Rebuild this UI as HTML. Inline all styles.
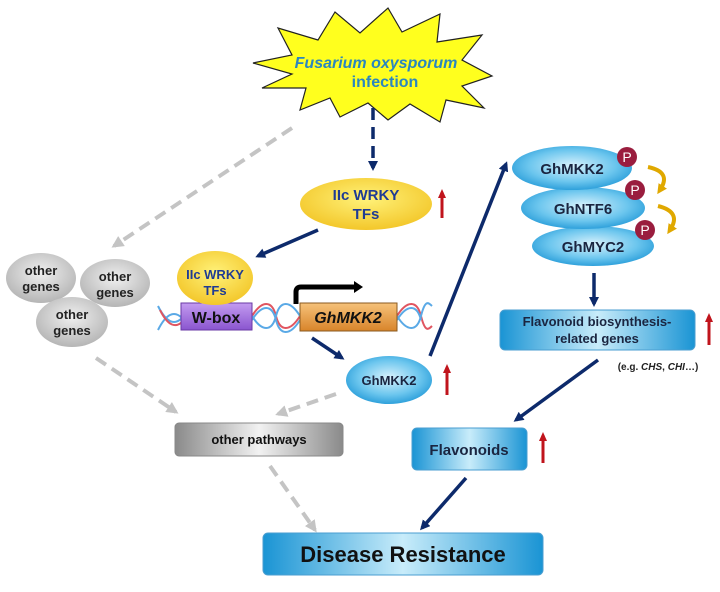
<!DOCTYPE html>
<html><head><meta charset="utf-8"><style>
html,body{margin:0;padding:0;background:#fff;}
svg{display:block;font-family:"Liberation Sans",sans-serif;font-weight:bold;}
</style></head><body>
<svg width="720" height="592" viewBox="0 0 720 592" xmlns="http://www.w3.org/2000/svg">
<defs>
<radialGradient id="yel" cx="50%" cy="40%" r="60%"><stop offset="0" stop-color="#fff27a"/><stop offset="1" stop-color="#f3c72a"/></radialGradient>
<radialGradient id="blu" cx="50%" cy="45%" r="60%"><stop offset="0" stop-color="#d9f2fc"/><stop offset="0.6" stop-color="#6cc6ee"/><stop offset="1" stop-color="#1f97d6"/></radialGradient>
<linearGradient id="boxh" x1="0" y1="0" x2="1" y2="0"><stop offset="0" stop-color="#1a94d4"/><stop offset="0.5" stop-color="#c8ecfa"/><stop offset="1" stop-color="#1a94d4"/></linearGradient>
<linearGradient id="gray" x1="0" y1="0" x2="1" y2="0"><stop offset="0" stop-color="#8a8a8a"/><stop offset="0.5" stop-color="#f2f2f2"/><stop offset="1" stop-color="#8a8a8a"/></linearGradient>
<radialGradient id="gel" cx="50%" cy="40%" r="60%"><stop offset="0" stop-color="#f0f0f0"/><stop offset="1" stop-color="#b5b5b5"/></radialGradient>
<linearGradient id="org" x1="0" y1="0" x2="0" y2="1"><stop offset="0" stop-color="#f6c27a"/><stop offset="1" stop-color="#d8842a"/></linearGradient>
<linearGradient id="pur" x1="0" y1="0" x2="0" y2="1"><stop offset="0" stop-color="#c39bf0"/><stop offset="1" stop-color="#8a55cf"/></linearGradient>
<marker id="an" markerWidth="10" markerHeight="10" refX="7" refY="5" orient="auto" markerUnits="userSpaceOnUse"><path d="M0,0 L10,5 L0,10 z" fill="#0d2a6b"/></marker>
<marker id="ag" markerWidth="12" markerHeight="12" refX="9" refY="6" orient="auto" markerUnits="userSpaceOnUse"><path d="M0,0 L12,6 L0,12 z" fill="#c4c4c4"/></marker>
<marker id="ar" markerWidth="9" markerHeight="8" refX="6" refY="4" orient="auto" markerUnits="userSpaceOnUse"><path d="M0,0 L9,4 L0,8 z" fill="#c0141c"/></marker>
<marker id="ay" markerWidth="10" markerHeight="10" refX="5" refY="5" orient="auto" markerUnits="userSpaceOnUse"><path d="M0,0 L10,5 L0,10 z" fill="#e0a800"/></marker>
</defs>

<polygon points="253,63 292,55 278,28 318,40 335,12 360,33 388,8 402,32 440,14 437,42 482,35 462,60 492,76 462,86 484,108 446,100 440,122 410,104 388,120 368,103 340,117 330,98 300,110 306,88 262,88 292,74" fill="#ffff1e" stroke="#222" stroke-width="1.2"/>
<text x="376" y="68" font-size="16" font-style="italic" fill="#2a86bf" text-anchor="middle">Fusarium oxysporum</text>
<text x="385" y="87" font-size="16" fill="#2a86bf" text-anchor="middle">infection</text>

<g stroke="#c4c4c4" stroke-width="4" stroke-dasharray="12,7" fill="none">
<line x1="292" y1="128" x2="114" y2="246" marker-end="url(#ag)"/>
<line x1="96" y1="358" x2="176" y2="412" marker-end="url(#ag)"/>
<line x1="336" y1="394" x2="278" y2="414" marker-end="url(#ag)"/>
<line x1="270" y1="466" x2="315" y2="530" marker-end="url(#ag)"/>
</g>

<g stroke="#0d2a6b" stroke-width="3.5" fill="none">
<line x1="373" y1="108" x2="373" y2="168" stroke-dasharray="12,7" marker-end="url(#an)"/>
<line x1="318" y1="230" x2="258" y2="256" marker-end="url(#an)"/>
<line x1="312" y1="338" x2="342" y2="358" marker-end="url(#an)"/>
<line x1="430" y1="356" x2="506" y2="164" marker-end="url(#an)"/>
<line x1="594" y1="273" x2="594" y2="304" marker-end="url(#an)"/>
<line x1="598" y1="360" x2="516" y2="420" marker-end="url(#an)"/>
<line x1="466" y1="478" x2="422" y2="528" marker-end="url(#an)"/>
</g>

<g stroke="#c0141c" stroke-width="3" fill="none">
<line x1="442" y1="218" x2="442" y2="192" marker-end="url(#ar)"/>
<line x1="447" y1="395" x2="447" y2="367" marker-end="url(#ar)"/>
<line x1="709" y1="345" x2="709" y2="316" marker-end="url(#ar)"/>
<line x1="543" y1="463" x2="543" y2="435" marker-end="url(#ar)"/>
</g>

<ellipse cx="366" cy="204" rx="66" ry="26" fill="url(#yel)"/>
<text x="366" y="200" font-size="15" fill="#1f3b94" text-anchor="middle">IIc WRKY</text>
<text x="366" y="219" font-size="15" fill="#1f3b94" text-anchor="middle">TFs</text>

<ellipse cx="41" cy="278" rx="35" ry="25" fill="url(#gel)"/>
<ellipse cx="115" cy="283" rx="35" ry="24" fill="url(#gel)"/>
<ellipse cx="72" cy="322" rx="36" ry="25" fill="url(#gel)"/>
<g font-size="13" fill="#222" text-anchor="middle">
<text x="41" y="275">other</text><text x="41" y="291">genes</text>
<text x="115" y="281">other</text><text x="115" y="297">genes</text>
<text x="72" y="319">other</text><text x="72" y="335">genes</text>
</g>

<g fill="none" stroke-width="2">
<path d="M158,306 Q170,330 182,318 M158,330 Q170,306 182,318" stroke="#5aa9e6"/>
<path d="M160,310 Q172,334 184,320" stroke="#e05560"/>
<path d="M252,316 C262,300 272,300 276,316 S290,332 300,316" stroke="#e05560"/>
<path d="M252,316 C262,332 272,332 276,316 S290,300 300,316" stroke="#5aa9e6"/>
<path d="M252,320 C262,304 272,304 276,320 S290,336 300,320" stroke="#5aa9e6"/>
<path d="M397,316 C407,300 417,300 421,316 S428,330 432,326" stroke="#e05560"/>
<path d="M397,316 C407,332 417,332 421,316 S428,302 432,306" stroke="#5aa9e6"/>
<path d="M397,320 C407,304 417,304 421,320" stroke="#5aa9e6"/>
</g>
<rect x="181" y="303" width="71" height="27" fill="url(#pur)" stroke="#6a3aa6"/>
<text x="216" y="323" font-size="16" fill="#111" text-anchor="middle">W-box</text>
<rect x="300" y="303" width="97" height="28" fill="url(#org)" stroke="#8a5a20"/>
<text x="348" y="323" font-size="16" font-style="italic" fill="#111" text-anchor="middle">GhMKK2</text>
<path d="M296,304 L296,292 Q296,287 301,287 L356,287" stroke="#000" stroke-width="5" fill="none"/>
<path d="M354,281 L363,287 L354,293 z" fill="#000"/>

<ellipse cx="215" cy="278" rx="38" ry="27" fill="url(#yel)"/>
<text x="215" y="279" font-size="13" fill="#1f3b94" text-anchor="middle">IIc WRKY</text>
<text x="215" y="295" font-size="13" fill="#1f3b94" text-anchor="middle">TFs</text>

<ellipse cx="389" cy="380" rx="43" ry="24" fill="url(#blu)"/>
<text x="389" y="385" font-size="13" fill="#1a2540" text-anchor="middle">GhMKK2</text>

<ellipse cx="593" cy="246" rx="61" ry="20" fill="url(#blu)"/>
<ellipse cx="583" cy="208" rx="62" ry="21" fill="url(#blu)"/>
<ellipse cx="572" cy="168" rx="60" ry="22" fill="url(#blu)"/>
<g font-size="15" fill="#1a2540" text-anchor="middle">
<text x="572" y="174">GhMKK2</text>
<text x="583" y="214">GhNTF6</text>
<text x="593" y="252">GhMYC2</text>
</g>
<g fill="#9a1d3e"><circle cx="627" cy="157" r="10"/><circle cx="635" cy="190" r="10"/><circle cx="645" cy="230" r="10"/></g>
<g fill="#fff" font-size="14" font-weight="normal" text-anchor="middle"><text x="627" y="162">P</text><text x="635" y="195">P</text><text x="645" y="235">P</text></g>
<g stroke="#e0a800" stroke-width="4" fill="none">
<path d="M648,167 Q672,172 660,190" marker-end="url(#ay)"/>
<path d="M658,206 Q682,212 670,230" marker-end="url(#ay)"/>
</g>

<rect x="500" y="310" width="195" height="40" rx="5" fill="url(#boxh)" stroke="#4a9ed0"/>
<text x="597" y="326" font-size="13" fill="#1a2540" text-anchor="middle">Flavonoid biosynthesis-</text>
<text x="597" y="343" font-size="13" fill="#1a2540" text-anchor="middle">related genes</text>
<text x="658" y="370" font-size="10" fill="#222" text-anchor="middle">(e.g. <tspan font-style="italic">CHS</tspan>, <tspan font-style="italic">CHI</tspan>…)</text>

<rect x="412" y="428" width="115" height="42" rx="5" fill="url(#boxh)" stroke="#4a9ed0"/>
<text x="469" y="455" font-size="15" fill="#1a2540" text-anchor="middle">Flavonoids</text>

<rect x="175" y="423" width="168" height="33" rx="4" fill="url(#gray)" stroke="#888"/>
<text x="259" y="444" font-size="13" fill="#111" text-anchor="middle">other pathways</text>

<rect x="263" y="533" width="280" height="42" rx="5" fill="url(#boxh)" stroke="#4a9ed0"/>
<text x="403" y="562" font-size="22" fill="#111" text-anchor="middle">Disease Resistance</text>
</svg>
</body></html>
